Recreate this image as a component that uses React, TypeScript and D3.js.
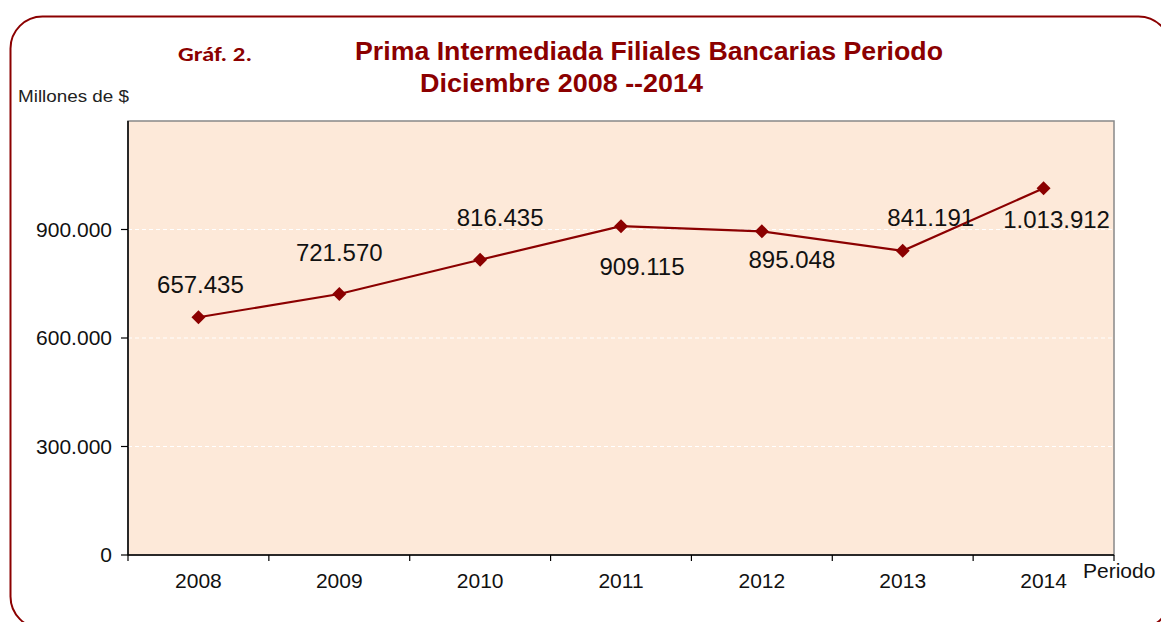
import React from "react";
import * as d3 from "d3";

const years = ["2008", "2009", "2010", "2011", "2012", "2013", "2014"];
const values = [657435, 721570, 816435, 909115, 895048, 841191, 1013912];
const labels = ["657.435", "721.570", "816.435", "909.115", "895.048", "841.191", "1.013.912"];
const yTicks = [0, 300000, 600000, 900000];
const yTickLabels = ["0", "300.000", "600.000", "900.000"];
// label offsets relative to point (dx, dy)
const labelOffsets: [number, number][] = [
  [2, -24],
  [0, -33],
  [20, -34],
  [21, 49],
  [30, 37],
  [28, -25],
  [13, 40],
];

export default function App() {
  const W = 1161, H = 622;
  const left = 128, right = 1114, top = 121, bottom = 555;
  const x = d3.scaleBand<string>().domain(years).range([left, right]);
  const y = d3.scaleLinear().domain([0, 1200000]).range([bottom, top]);
  const dark = "#8B0000";
  const pts = values.map((v, i) => [x(years[i])! + x.bandwidth() / 2, y(v)] as [number, number]);
  const line = d3.line()(pts) || "";
  const boundaries = years.map((yr) => x(yr)!).concat([right]);
  const font = "Arial, 'Liberation Sans', sans-serif";
  return (
    <svg width={W} height={H} style={{ position: "absolute", left: 0, top: 0 }} fontFamily={font}>
      <rect x={0} y={0} width={W} height={H} fill="#fff" />
      <rect x={10.5} y={16.5} width={1160} height={612} rx={32} ry={32} fill="#fff" stroke={dark} strokeWidth={2} />
      <text x={178} y={61} fontSize={20} fontWeight="bold" fill={dark} textLength={74} lengthAdjust="spacingAndGlyphs" fontFamily="Carlito, Calibri, 'Liberation Sans', sans-serif">Gráf. 2.</text>
      <text x={355} y={60} fontSize={25} fontWeight="bold" fill={dark} textLength={588} lengthAdjust="spacingAndGlyphs">Prima Intermediada Filiales  Bancarias Periodo</text>
      <text x={420} y={92} fontSize={25} fontWeight="bold" fill={dark} textLength={283} lengthAdjust="spacingAndGlyphs">Diciembre 2008 --2014</text>
      <text x={18} y={102} fontSize={17} fill="#222" textLength={111} lengthAdjust="spacingAndGlyphs">Millones de $</text>
      <rect x={left} y={top} width={right - left} height={bottom - top} fill="#FDE9D9" stroke="#888" strokeWidth={1.5} />
      {yTicks.slice(1).map((t) => (
        <line key={t} x1={left} x2={right} y1={y(t)} y2={y(t)} stroke="#fff" strokeDasharray="4,3" strokeWidth={1} />
      ))}
      <line x1={left} x2={left} y1={top} y2={bottom} stroke="#000" strokeWidth={1.5} />
      <line x1={left} x2={right} y1={bottom} y2={bottom} stroke="#000" strokeWidth={1.5} />
      {yTicks.map((t, i) => (
        <g key={t}>
          <line x1={left - 7} x2={left} y1={y(t)} y2={y(t)} stroke="#000" strokeWidth={1.2} />
          <text x={left - 16} y={y(t) + 7} fontSize={21} textAnchor="end" fill="#111">{yTickLabels[i]}</text>
        </g>
      ))}
      {boundaries.map((b, i) => (
        <line key={i} x1={b} x2={b} y1={bottom} y2={bottom + 6} stroke="#000" strokeWidth={1.2} />
      ))}
      {years.map((yr) => (
        <text key={yr} x={x(yr)! + x.bandwidth() / 2} y={588} fontSize={21} textAnchor="middle" fill="#111">{yr}</text>
      ))}
      <text x={1083} y={578} fontSize={21} fill="#111">Periodo</text>
      <path d={line} fill="none" stroke={dark} strokeWidth={2.2} />
      {pts.map(([px, py], i) => (
        <path key={i} d={`M${px},${py - 7}L${px + 7},${py}L${px},${py + 7}L${px - 7},${py}Z`} fill={dark} />
      ))}
      {pts.map(([px, py], i) => (
        <text key={"l" + i} x={px + labelOffsets[i][0]} y={py + labelOffsets[i][1]} fontSize={24} textAnchor="middle" fill="#111">{labels[i]}</text>
      ))}
    </svg>
  );
}
